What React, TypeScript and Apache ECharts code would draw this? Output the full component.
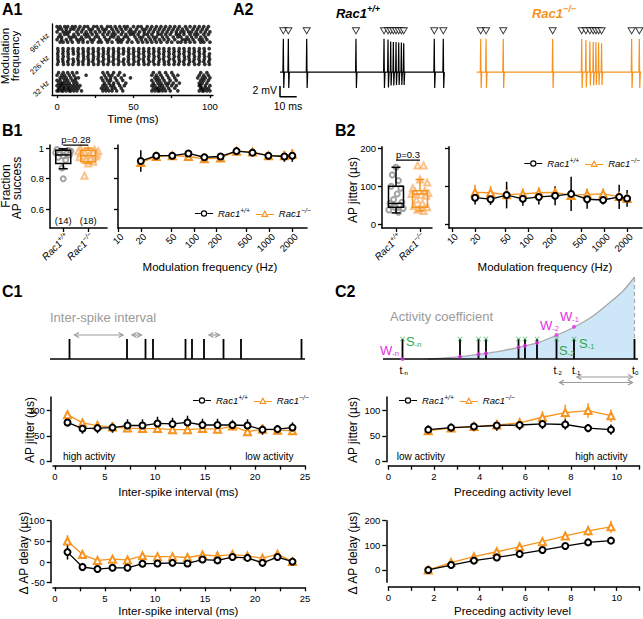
import React, { useEffect, useRef } from "react";
import * as echarts from "echarts";

const FONT = "'Liberation Sans', Arial, Helvetica, sans-serif";
const BLACK = "#000000";
const ORANGE = "#F7931E";
const ORANGE_LIGHT = "#F9B26A";
const GRAY = "#9a9a9a";
const PT_GRAY = "#8c8c8c";
const MAGENTA = "#E62EE6";
const GREEN = "#2AA84A";
const BLUE_FILL = "#CDE6F8";

// ---------------- A1 raster (spike times, ms) ----------------
const raster967 = [
  [0, 2, 5, 7, 10, 12, 15, 18, 20, 24, 26, 29, 33, 35, 38, 41, 44, 46, 50, 53, 55, 59, 62, 65, 68, 71, 74, 77, 80, 84, 87, 90, 93, 96, 99],
  [1, 3, 6, 9, 11, 14, 17, 21, 23, 27, 30, 32, 36, 39, 42, 45, 48, 52, 56, 58, 61, 64, 67, 70, 73, 76, 79, 82, 85, 89, 92, 95, 98],
  [0, 4, 6, 8, 13, 16, 19, 22, 25, 28, 31, 34, 37, 40, 43, 47, 49, 51, 54, 57, 60, 63, 66, 69, 72, 75, 78, 81, 83, 86, 88, 91, 94, 97, 100],
  [2, 5, 7, 11, 14, 18, 20, 23, 26, 30, 33, 36, 38, 42, 45, 48, 50, 53, 57, 59, 62, 66, 68, 71, 74, 78, 80, 83, 87, 90, 92, 96, 99],
  [1, 3, 8, 10, 12, 16, 19, 21, 25, 27, 31, 35, 37, 40, 44, 46, 51, 54, 56, 60, 63, 65, 69, 72, 76, 79, 81, 85, 88, 91, 94, 97],
  [0, 3, 6, 9, 13, 15, 17, 22, 24, 28, 32, 34, 39, 41, 43, 47, 52, 55, 58, 61, 64, 67, 70, 73, 77, 82, 84, 86, 89, 93, 95, 98],
  [2, 4, 7, 10, 14, 17, 20, 23, 27, 29, 33, 36, 40, 42, 46, 49, 53, 56, 59, 62, 65, 68, 72, 75, 79, 81, 84, 87, 90, 94, 96, 100],
];
const raster226 = [
  [0.5, 3.9, 7.4, 10.4, 13.9, 17.0, 20.5, 23.6, 27.1, 30.2, 33.7, 36.8, 40.3, 43.4, 46.9, 50.0, 53.5, 56.6, 60.1, 63.2, 66.7, 69.8, 73.3, 76.4, 79.9, 83.0, 86.5, 89.6, 93.1, 96.2, 99.5],
  [0.7, 4.0, 7.1, 10.6, 13.7, 17.2, 20.3, 23.8, 26.9, 30.4, 33.5, 37.0, 40.1, 43.6, 46.7, 50.2, 53.3, 56.8, 59.9, 63.4, 66.5, 70.0, 73.1, 76.6, 79.7, 83.2, 86.3, 89.8, 92.9, 96.4],
  [0.4, 3.8, 7.3, 10.7, 14.0, 17.1, 20.6, 23.5, 27.2, 30.3, 33.4, 36.9, 40.4, 43.3, 47.0, 49.9, 53.6, 56.5, 60.2, 63.1, 66.8, 69.7, 73.4, 76.3, 80.0, 82.9, 86.6, 89.5, 93.2, 96.1, 99.7],
  [0.6, 4.1, 7.2, 13.8, 17.3, 20.2, 23.9, 27.0, 30.1, 33.8, 36.7, 40.2, 46.6, 50.3, 53.2, 56.9, 60.0, 63.5, 66.4, 69.9, 73.0, 76.7, 79.6, 83.3, 86.2, 89.9, 93.0, 96.5, 99.4],
  [0.5, 3.7, 7.5, 10.5, 13.6, 17.4, 20.4, 23.7, 26.8, 30.5, 33.6, 37.1, 40.0, 43.7, 46.8, 50.1, 53.7, 56.4, 59.8, 63.3, 66.9, 69.6, 73.5, 76.2, 79.8, 83.4, 86.4, 89.7, 92.8, 96.3, 99.8],
  [0.8, 3.9, 7.0, 10.8, 14.1, 16.9, 20.7, 23.4, 27.3, 30.0, 33.9, 36.6, 40.5, 43.2, 46.5, 50.4, 53.1, 56.7, 60.3, 62.9, 66.6, 70.1, 72.9, 76.8, 80.1, 82.8, 86.7, 89.4, 93.3, 96.0, 99.3],
  [0.3, 4.2, 7.3, 10.3, 13.9, 17.0, 20.5, 24.0, 26.9, 30.4, 33.3, 37.0, 40.1, 43.8, 47.1, 49.8, 53.4, 57.0, 59.7, 63.6, 66.3, 70.2, 73.2, 76.5, 79.5, 83.1, 86.1, 90.0, 92.7, 96.6, 99.6],
];
const raster32 = [
  [1, 4, 7, 10, 13, 30, 33, 37, 41, 63, 67, 71, 75, 94, 98],
  [0, 3, 5, 8, 11, 19, 31, 34, 36, 40, 44, 62, 65, 68, 72, 76, 79, 93, 96, 99],
  [2, 4, 6, 9, 12, 14, 29, 32, 35, 38, 42, 48, 64, 66, 69, 73, 77, 92, 95, 97, 100],
  [0, 2, 5, 7, 10, 12, 30, 33, 35, 39, 43, 62, 65, 67, 70, 74, 78, 94, 96, 99],
  [1, 3, 4, 6, 8, 11, 13, 31, 34, 37, 40, 45, 63, 66, 68, 71, 73, 76, 80, 93, 95, 98],
  [0, 2, 3, 5, 7, 9, 11, 13, 15, 30, 32, 35, 37, 41, 44, 62, 64, 67, 69, 72, 75, 78, 93, 94, 97, 100],
  [1, 2, 4, 5, 7, 8, 10, 12, 14, 29, 31, 33, 36, 38, 42, 63, 65, 66, 68, 70, 73, 77, 94, 95, 97, 99],
  [0, 1, 3, 4, 6, 8, 9, 11, 13, 16, 30, 32, 34, 36, 39, 43, 62, 64, 66, 67, 69, 71, 74, 79, 93, 95, 96, 98, 100],
];
const rows967 = [1, 2, 3, 4, 5, 6, 7];
const rows226 = [9.5, 10.5, 11.5, 12.5, 13.5, 14.5, 15.5];
const rows32 = [18.7, 19.7, 20.7, 21.7, 22.7, 23.7, 24.7, 25.7];
const bandLabels = ["967 Hz", "226 Hz", "32 Hz"];
const bandCenters = [4, 12.5, 22.2];
const timeTicks = [0, 25, 50, 75, 100];
const timeLabels = [0, 50, 100];

// ---------------- A2 traces ----------------
const wtSpikes = [2.0, 5.0, 16.0, 45.5, 62.3, 64.7, 66.3, 67.9, 69.5, 71.1, 72.7, 74.1, 92.4, 97.8];
const wtUp = [6.2, 6.2, 6.2, 6.2, 6.2, 6.1, 5.7, 5.6, 5.6, 5.5, 5.5, 5.4, 6.2, 6.2];
const wtDown = [3.0, 3.0, 3.0, 3.0, 3.0, 2.9, 2.5, 2.5, 2.4, 2.4, 2.4, 2.4, 3.0, 3.0];
const koSpikes = [2.4, 5.6, 15.9, 45.5, 62.9, 65.4, 67.8, 69.8, 71.4, 73.0, 74.8, 92.8, 97.4];
const koUp = [6.2, 6.2, 6.2, 6.2, 6.2, 6.0, 5.7, 5.6, 5.6, 5.5, 5.4, 6.2, 6.2];
const koDown = [3.0, 3.0, 3.0, 3.0, 3.0, 2.9, 2.5, 2.5, 2.4, 2.4, 2.4, 3.0, 3.0];
const traceEnd = 98.6;
const markLevel = 7.7;
const scaleBarMv = 2;
const scaleBarMs = 10;

// ---------------- B1 / B2 ----------------
const FREQS = [20, 32, 52, 85, 138, 226, 367, 596, 967, 1573, 2000];
const LOG_TICKS = [10, 20, 50, 100, 200, 500, 1000, 2000];
const b1Wt = [0.915, 0.95, 0.95, 0.965, 0.94, 0.945, 0.98, 0.97, 0.95, 0.945, 0.95];
const b1WtErr = [0.07, 0.025, 0.02, 0.02, 0.025, 0.02, 0.01, 0.02, 0.025, 0.035, 0.04];
const b1Ko = [0.905, 0.945, 0.95, 0.945, 0.93, 0.935, 0.98, 0.975, 0.95, 0.95, 0.96];
const b1KoErr = [0.03, 0.025, 0.02, 0.025, 0.02, 0.02, 0.01, 0.02, 0.025, 0.025, 0.03];
const b2Wt = [70, 66, 77, 67, 72, 75, 80, 66, 64, 72, 68];
const b2WtErr = [18, 15, 35, 18, 20, 25, 45, 25, 12, 32, 22];
const b2Ko = [84, 83, 78, 80, 83, 84, 76, 79, 80, 73, 68];
const b2KoErr = [20, 18, 22, 15, 15, 15, 18, 15, 15, 15, 10];

// box plots: [min, q1, median, q3, max]
const b1WtBox = [0.865, 0.9, 0.955, 0.985, 0.995];
const b1KoBox = [0.9, 0.91, 0.95, 0.985, 1.0];
const b1WtPts = [0.99, 0.985, 0.98, 0.98, 0.975, 0.97, 0.965, 0.96, 0.955, 0.95, 0.94, 0.92, 0.87, 0.8];
const b1WtJit = [-0.25, 0.2, -0.1, 0.3, 0.05, -0.3, 0.15, -0.15, 0.25, 0, -0.2, 0.1, -0.05, 0];
const b1KoPts = [0.995, 0.99, 0.985, 0.98, 0.98, 0.975, 0.97, 0.965, 0.96, 0.955, 0.95, 0.945, 0.94, 0.93, 0.92, 0.91, 0.9, 0.82];
const b1KoJit = [-0.3, 0.25, 0, -0.4, 0.4, -0.15, 0.2, -0.3, 0.35, 0.05, -0.2, 0.3, -0.35, 0.1, -0.1, 0.2, 0, -0.15];
const b2WtBox = [30, 45, 55, 100, 150];
const b2KoBox = [35, 45, 80, 88, 118];
const b2WtPts = [150, 130, 115, 100, 95, 80, 65, 58, 55, 50, 45, 42, 38, 32];
const b2WtJit = [0, -0.15, 0.1, -0.2, 0.2, 0.05, -0.1, 0.25, -0.25, 0.15, -0.05, 0.3, -0.3, 0.1];
const b2KoPts = [155, 155, 118, 110, 95, 88, 85, 82, 80, 78, 75, 65, 55, 48, 45, 42, 38, 35];
const b2KoJit = [-0.1, 0.15, 0, 0.3, -0.3, 0.2, -0.2, 0.35, -0.35, 0.05, 0.25, -0.15, 0.1, -0.25, 0.3, 0, -0.1, 0.15];
const nCounts = ["(14)", "(18)"];

// ---------------- C1 / C2 ----------------
const spikeTrain = [19.5, 77, 95.5, 103, 135.5, 142, 154, 173.5, 191, 251.5];
const spikeHeight = 20;
const isiArrows = [[0, 1], [1, 2], [6, 7]];
const isiArrowLevel = 24;
const activityArrows = [[8, 9], [7, 9]];
const activityArrowLevels = [-18, -23.5];
const curveX = [45, 60, 78, 96, 104, 120, 136, 143, 155, 174, 192, 210, 225, 240, 251.5];
const curveH = [0, 0.8, 2.3, 4.7, 5.7, 8.3, 11.7, 13.3, 16.3, 24, 32.3, 43, 55, 68, 82];
const weightHeights = [0, 2.3, 4.7, 5.7, 11.7, 13.3, 16.3, 24, 32.3];

const ISI = [1.25, 2.75, 4.25, 5.75, 7.25, 8.75, 10.25, 11.75, 13.25, 14.75, 16.25, 17.75, 19.25, 20.75, 22.25, 23.75];
const isiTicks = [0, 2.5, 5, 7.5, 10, 12.5, 15, 17.5, 20, 22.5, 25];
const isiLabels = [0, 5, 10, 15, 20, 25];
const c1JitWt = [76, 64, 65, 66, 70, 70, 74, 73, 76, 71, 71, 71, 70, 62, 63, 66];
const c1JitWtErr = [8, 10, 10, 10, 12, 12, 13, 12, 13, 12, 12, 10, 12, 10, 8, 10];
const c1JitKo = [91, 75, 70, 67, 65, 64, 64, 62, 62, 64, 63, 69, 58, 63, 61, 60];
const c1JitKoErr = [7, 8, 8, 8, 8, 8, 8, 8, 8, 8, 8, 8, 8, 8, 8, 8];
const c1DelWt = [24, -12, -17, -14, -14, -4, -3.5, -2, -3.5, 6, 4, 12, 10, -2, 12, 1];
const c1DelWtErr = [18, 10, 8, 6, 6, 6, 6, 6, 6, 6, 6, 6, 6, 5, 5, 4];
const c1DelKo = [51, 18, 4, 7, 5, 15, 13, 13, 11, 17, 15, 18, 15, 9, 19, 1];
const c1DelKoErr = [14, 10, 6, 5, 5, 5, 5, 5, 5, 5, 5, 5, 5, 5, 5, 4];

const ACT = [1.75, 2.75, 3.75, 4.75, 5.75, 6.75, 7.75, 8.75, 9.75];
const actTicks = [0, 1, 2, 3, 4, 5, 6, 7, 8, 9, 10, 11];
const actLabels = [0, 2, 4, 6, 8, 10];
const c2JitWt = [62, 66, 68, 70, 71, 73, 72, 65, 62];
const c2JitWtErr = [8, 8, 8, 10, 10, 10, 10, 8, 10];
const c2JitKo = [60, 65, 68, 71, 75, 86, 95, 99, 89];
const c2JitKoErr = [8, 8, 10, 10, 10, 12, 15, 14, 12];
const c2DelWt = [0, 20, 38, 51, 65, 81, 97, 112, 119];
const c2DelWtErr = [4, 5, 5, 6, 6, 7, 10, 12, 14];
const c2DelKo = [0, 30, 54, 74, 94, 115, 138, 159, 175];
const c2DelKoErr = [4, 6, 6, 7, 8, 10, 15, 20, 25];

const LABEL_SHIFT_LOG = 0.05;
const LABEL_SHIFT_CAT = 0.16;

// legend icons: line with open circle / open triangle (18 x 8 box)
const ICON_WT = "path://M0,3.4L5.6,3.4L5.6,4.6L0,4.6Z M12.4,3.4L18,3.4L18,4.6L12.4,4.6Z M12.2,4A3.2,3.2 0 1,0 5.8,4A3.2,3.2 0 1,0 12.2,4Z M11,4A2,2 0 1,1 7,4A2,2 0 1,1 11,4Z";
const ICON_KO = "path://M0,4.4L6.2,4.4L6.2,5.6L0,5.6Z M11.8,4.4L18,4.4L18,5.6L11.8,5.6Z M9,0.6L12.8,7.4L5.2,7.4Z M9,2.9L7.1,6.3L10.9,6.3Z";

// ---------------- helpers ----------------
function supRich(size: number, color = BLACK, weight = "normal") {
  return {
    i: { fontFamily: FONT, fontStyle: "italic", fontWeight: weight, fontSize: size, color, fill: color },
    s: {
      fontFamily: FONT, fontStyle: "italic", fontWeight: weight, fontSize: Math.round(size * 0.7 * 10) / 10,
      color, fill: color, padding: [0, 0, Math.round(size * 0.6), 0],
    },
  };
}
const wtLabel = "{i|Rac1}{s|+/+}";
const koLabel = "{i|Rac1}{s|\u2212/\u2212}";

function subRich(size: number, color: string) {
  return {
    m: { fontFamily: FONT, fontSize: size, color, fill: color },
    b: { fontFamily: FONT, fontSize: Math.round(size * 0.58 * 10) / 10, color, fill: color, padding: [Math.round(size * 0.5), 0, 0, 0] },
  };
}

function buildTrace(times: number[], up: number[], down: number[], end: number) {
  const d: number[][] = [[0, 0]];
  times.forEach((t, i) => {
    d.push([t - 0.25, 0], [t, up[i]], [t + 0.25, -down[i]], [t + 0.6, 0]);
  });
  d.push([end, 0]);
  return d;
}

const axisLine = { show: true, onZero: false, lineStyle: { color: BLACK, width: 1.5 } };
function ticks(values: number[], len = 4) {
  return { show: true, customValues: values, length: len, lineStyle: { color: BLACK, width: 1.3 } };
}
function labels(values: number[], extra: any = {}) {
  return { show: true, customValues: values, fontSize: 9.5, color: BLACK, fontFamily: FONT, margin: 6, ...extra };
}
function hidden(gridIndex: number, min: number, max: number, extra: any = {}) {
  return { gridIndex, type: "value", show: false, min, max, ...extra };
}

function errRender(color: string) {
  return (params: any, api: any) => {
    const x = api.value(0);
    const a = api.coord([x, api.value(1)]);
    const b = api.coord([x, api.value(2)]);
    return { type: "line", shape: { x1: a[0], y1: a[1], x2: b[0], y2: b[1] }, style: { stroke: color, lineWidth: 1.5 } };
  };
}
function boxRender(color: string) {
  return (params: any, api: any) => {
    const x = api.value(0);
    const p = [1, 2, 3, 4, 5].map((i) => api.coord([x, api.value(i)]));
    const cx = p[0][0];
    const hw = 7.5, cw = 4.5;
    const st = { stroke: color, lineWidth: 1.5, fill: "none" };
    return {
      type: "group",
      children: [
        { type: "line", shape: { x1: cx, y1: p[4][1], x2: cx, y2: p[3][1] }, style: st },
        { type: "line", shape: { x1: cx, y1: p[1][1], x2: cx, y2: p[0][1] }, style: st },
        { type: "line", shape: { x1: cx - cw, y1: p[4][1], x2: cx + cw, y2: p[4][1] }, style: st },
        { type: "line", shape: { x1: cx - cw, y1: p[0][1], x2: cx + cw, y2: p[0][1] }, style: st },
        { type: "rect", shape: { x: cx - hw, y: p[3][1], width: 2 * hw, height: p[1][1] - p[3][1] }, style: st },
        { type: "line", shape: { x1: cx - hw, y1: p[2][1], x2: cx + hw, y2: p[2][1] }, style: st },
      ],
    };
  };
}
function spikeRender(params: any, api: any) {
  const x = api.value(0);
  const a = api.coord([x, 0]);
  const b = api.coord([x, api.value(1)]);
  return { type: "line", shape: { x1: a[0], y1: a[1], x2: b[0], y2: b[1] }, style: { stroke: BLACK, lineWidth: 1.8 } };
}
function arrowRender(params: any, api: any) {
  const y = api.value(2);
  const a = api.coord([api.value(0), y]);
  const b = api.coord([api.value(1), y]);
  const h = 4.5, w = 2.5;
  const st = { stroke: GRAY, lineWidth: 1.2, fill: "none" };
  return {
    type: "group",
    children: [
      { type: "line", shape: { x1: a[0], y1: a[1], x2: b[0], y2: b[1] }, style: st },
      { type: "polyline", shape: { points: [[a[0] + h, a[1] - w], [a[0], a[1]], [a[0] + h, a[1] + w]] }, style: st },
      { type: "polyline", shape: { points: [[b[0] - h, b[1] - w], [b[0], b[1]], [b[0] - h, b[1] + w]] }, style: st },
    ],
  };
}

function meanLine(name: string, idx: number, xs: number[], ys: number[]) {
  const wt = name === "wt";
  return {
    type: "line", name, xAxisIndex: idx, yAxisIndex: idx,
    data: xs.map((x, i) => [x, ys[i]]),
    symbol: wt ? "emptyCircle" : "emptyTriangle",
    symbolSize: wt ? 6 : 7,
    lineStyle: { color: wt ? BLACK : ORANGE, width: 1.3 },
    itemStyle: { color: wt ? BLACK : ORANGE, borderWidth: 1.3 },
    z: wt ? 4 : 3,
  };
}
function errBars(name: string, idx: number, xs: number[], ys: number[], es: number[]) {
  const wt = name === "wt";
  return {
    type: "custom", name: name + "Err", xAxisIndex: idx, yAxisIndex: idx,
    data: xs.map((x, i) => [x, ys[i] - es[i], ys[i] + es[i]]),
    renderItem: errRender(wt ? BLACK : ORANGE),
    z: wt ? 2 : 1, silent: true,
  };
}
function boxSeries(idx: number, x: number, box: number[], color: string) {
  return { type: "custom", xAxisIndex: idx, yAxisIndex: idx, data: [[x, ...box]], renderItem: boxRender(color), z: 5, silent: true };
}
function ptsSeries(idx: number, x: number, pts: number[], jit: number[], wt: boolean) {
  return {
    type: "scatter", xAxisIndex: idx, yAxisIndex: idx,
    data: pts.map((v, i) => [x + jit[i], v]),
    symbol: wt ? "emptyCircle" : "emptyTriangle",
    symbolSize: wt ? 5 : 6,
    itemStyle: { color: wt ? PT_GRAY : ORANGE_LIGHT, borderWidth: 1 },
    z: 2, silent: true,
  };
}

function T(x: number, y: number, text: string, o: any = {}) {
  return {
    type: "text", x, y, rotation: o.rot || 0, z: 100, silent: true,
    style: {
      text, fontFamily: FONT, fontSize: o.size || 12, fontWeight: o.weight || "normal",
      fontStyle: o.fstyle || "normal", fill: o.color || BLACK,
      align: o.align || "center", verticalAlign: o.va || "middle", rich: o.rich,
    },
  };
}

function buildOption() {
  const grid = [
    { left: 52, top: 24, width: 161, height: 71 }, // 0 A1
    { left: 280, top: 25, width: 165.3, height: 73.8 }, // 1 A2 wt
    { left: 476.7, top: 25, width: 165.3, height: 73.8 }, // 2 A2 ko
    { left: 50, top: 145, width: 57, height: 83 }, // 3 B1 box
    { left: 118, top: 145, width: 189, height: 83 }, // 4 B1 line
    { left: 382, top: 146.7, width: 50, height: 81.3 }, // 5 B2 box
    { left: 449, top: 146.7, width: 193, height: 81.3 }, // 6 B2 line
    { left: 50, top: 276, width: 255, height: 113 }, // 7 C1 schematic
    { left: 383, top: 276, width: 255, height: 113 }, // 8 C2 schematic
    { left: 53, top: 397.1, width: 252, height: 64.6 }, // 9 C1 jitter
    { left: 53, top: 520.7, width: 252, height: 62 }, // 10 C1 delay
    { left: 388.3, top: 397.1, width: 251.2, height: 64.6 }, // 11 C2 jitter
    { left: 388.3, top: 520.7, width: 251.2, height: 61.6 }, // 12 C2 delay
  ].map((g) => ({ ...g, containLabel: false, outerBoundsMode: "none" }));

  const logX = FREQS.map((f) => Math.log10(f));
  const logTickPos = LOG_TICKS.map((v) => Math.log10(v));
  const logLabelPos = LOG_TICKS.map((v) => Math.log10(v) + LABEL_SHIFT_LOG);
  const logFmt = (v: number) => String(Math.round(Math.pow(10, v - LABEL_SHIFT_LOG)));
  const catFmt = (v: number) => (v < 1.5 ? wtLabel : koLabel);
  const catLabel = labels([1 + LABEL_SHIFT_CAT, 2 + LABEL_SHIFT_CAT], {
    rotate: 45, formatter: catFmt, rich: supRich(10), margin: 7,
  });
  const logLabel = labels(logLabelPos, { rotate: 45, formatter: logFmt, margin: 7 });
  const noLabel = { show: false };

  const xAxis: any[] = [
    { gridIndex: 0, type: "value", min: -3.3, max: 102, axisLine: { ...axisLine, lineStyle: { color: BLACK, width: 1.3 } }, axisTick: ticks(timeTicks, 3), axisLabel: labels(timeLabels), splitLine: { show: false } },
    hidden(1, 0, 99),
    hidden(2, 0, 99),
    { gridIndex: 3, type: "value", min: 0.47, max: 2.75, axisLine, axisTick: ticks([1, 2]), axisLabel: catLabel, splitLine: { show: false } },
    { gridIndex: 4, type: "value", min: 1, max: 3.495, axisLine, axisTick: ticks(logTickPos), axisLabel: logLabel, splitLine: { show: false } },
    { gridIndex: 5, type: "value", min: 0.417, max: 2.5, axisLine, axisTick: ticks([1, 2]), axisLabel: catLabel, splitLine: { show: false } },
    { gridIndex: 6, type: "value", min: 0.958, max: 3.497, axisLine, axisTick: ticks(logTickPos), axisLabel: logLabel, splitLine: { show: false } },
    hidden(7, 0, 255),
    hidden(8, 0, 255),
    { gridIndex: 9, type: "value", min: -0.2, max: 25, offset: 4, axisLine, axisTick: ticks(isiTicks), axisLabel: labels(isiLabels), splitLine: { show: false } },
    { gridIndex: 10, type: "value", min: -0.2, max: 25, offset: 4.6, axisLine, axisTick: ticks(isiTicks), axisLabel: labels(isiLabels), splitLine: { show: false } },
    { gridIndex: 11, type: "value", min: 0, max: 11, offset: 4, axisLine, axisTick: ticks(actTicks), axisLabel: labels(actLabels), splitLine: { show: false } },
    { gridIndex: 12, type: "value", min: 0, max: 11, offset: 4.6, axisLine, axisTick: ticks(actTicks), axisLabel: labels(actLabels), splitLine: { show: false } },
  ];
  const yAxis: any[] = [
    {
      gridIndex: 0, type: "value", inverse: true, min: 0, max: 27.3,
      axisLine: { ...axisLine, lineStyle: { color: BLACK, width: 1.3 } }, axisTick: { show: false },
      axisLabel: labels(bandCenters, {
        rotate: 45, fontSize: 7.5, margin: 4,
        formatter: (v: number) => {
          let best = 0;
          bandCenters.forEach((c, i) => { if (Math.abs(c - v) < Math.abs(bandCenters[best] - v)) best = i; });
          return bandLabels[best];
        },
      }),
      splitLine: { show: false },
    },
    hidden(1, -5, 8.79),
    hidden(2, -5, 8.79),
    { gridIndex: 3, type: "value", min: 0.478, max: 1.02, axisLine, axisTick: ticks([0.6, 0.8, 1]), axisLabel: labels([0.6, 0.8, 1]), splitLine: { show: false } },
    { gridIndex: 4, type: "value", min: 0.478, max: 1.02, axisLine, axisTick: ticks([0.6, 0.8, 1]), axisLabel: noLabel, splitLine: { show: false } },
    { gridIndex: 5, type: "value", min: -9.7, max: 204.2, axisLine, axisTick: ticks([0, 100, 200]), axisLabel: labels([0, 100, 200]), splitLine: { show: false } },
    { gridIndex: 6, type: "value", min: -9.7, max: 204.2, axisLine, axisTick: ticks([0, 100, 200]), axisLabel: noLabel, splitLine: { show: false } },
    hidden(7, -30, 83),
    hidden(8, -30, 83),
    { gridIndex: 9, type: "value", min: 0, max: 125, offset: 2.3, axisLine, axisTick: ticks([0, 50, 100]), axisLabel: labels([0, 50, 100]), splitLine: { show: false } },
    { gridIndex: 10, type: "value", min: -50, max: 100, offset: 2.3, axisLine, axisTick: ticks([-50, 0, 50, 100]), axisLabel: labels([-50, 0, 50, 100]), splitLine: { show: false } },
    { gridIndex: 11, type: "value", min: 0, max: 125, offset: 2, axisLine, axisTick: ticks([0, 50, 100]), axisLabel: labels([0, 50, 100]), splitLine: { show: false } },
    { gridIndex: 12, type: "value", min: -50, max: 200, offset: 2, axisLine, axisTick: ticks([0, 100, 200]), axisLabel: labels([0, 100, 200]), splitLine: { show: false } },
  ];

  const series: any[] = [];

  // A1 raster
  const rasterData: number[][] = [];
  const bands: [number[][], number[]][] = [[raster967, rows967], [raster226, rows226], [raster32, rows32]];
  bands.forEach(([rows, pos]) => rows.forEach((r, i) => r.forEach((t) => rasterData.push([t, pos[i]]))));
  series.push({ type: "scatter", xAxisIndex: 0, yAxisIndex: 0, data: rasterData, symbol: "circle", symbolSize: 3.7, itemStyle: { color: BLACK }, silent: true });

  // A2 traces
  series.push({ type: "line", xAxisIndex: 1, yAxisIndex: 1, data: buildTrace(wtSpikes, wtUp, wtDown, traceEnd), symbol: "none", lineStyle: { color: BLACK, width: 1.2 }, silent: true });
  series.push({ type: "line", xAxisIndex: 2, yAxisIndex: 2, data: buildTrace(koSpikes, koUp, koDown, traceEnd), symbol: "none", lineStyle: { color: ORANGE, width: 1.2 }, silent: true });
  [[1, wtSpikes], [2, koSpikes]].forEach(([idx, sp]: any) => {
    series.push({
      type: "scatter", xAxisIndex: idx, yAxisIndex: idx, data: sp.map((t: number) => [t, markLevel]),
      symbol: "triangle", symbolRotate: 180, symbolSize: [7, 6],
      itemStyle: { color: "#ffffff", borderColor: BLACK, borderWidth: 1 }, silent: true, z: 5,
    });
  });
  series.push({
    type: "line", xAxisIndex: 1, yAxisIndex: 1, clip: false, symbol: "none",
    data: [[0, -2.6], [0, -2.6 - scaleBarMv], [scaleBarMs, -2.6 - scaleBarMv]],
    lineStyle: { color: BLACK, width: 1.5 }, silent: true,
  });

  // B1
  series.push(ptsSeries(3, 1, b1WtPts, b1WtJit, true));
  series.push(ptsSeries(3, 2, b1KoPts, b1KoJit, false));
  series.push(boxSeries(3, 1, b1WtBox, BLACK));
  series.push(boxSeries(3, 2, b1KoBox, ORANGE));
  series.push({ type: "line", xAxisIndex: 3, yAxisIndex: 3, data: [[1, 1.0196], [2, 1.0196]], symbol: "none", clip: false, lineStyle: { color: BLACK, width: 1.2 }, silent: true });
  series.push(errBars("wt", 4, logX, b1Wt, b1WtErr));
  series.push(errBars("ko", 4, logX, b1Ko, b1KoErr));
  series.push(meanLine("ko", 4, logX, b1Ko));
  series.push(meanLine("wt", 4, logX, b1Wt));

  // B2
  series.push(ptsSeries(5, 1, b2WtPts, b2WtJit, true));
  series.push(ptsSeries(5, 2, b2KoPts, b2KoJit, false));
  series.push(boxSeries(5, 1, b2WtBox, BLACK));
  series.push(boxSeries(5, 2, b2KoBox, ORANGE));
  series.push({ type: "line", xAxisIndex: 5, yAxisIndex: 5, data: [[1, 169], [2, 169]], symbol: "none", clip: false, lineStyle: { color: BLACK, width: 1.2 }, silent: true });
  series.push(errBars("wt", 6, logX, b2Wt, b2WtErr));
  series.push(errBars("ko", 6, logX, b2Ko, b2KoErr));
  series.push(meanLine("ko", 6, logX, b2Ko));
  series.push(meanLine("wt", 6, logX, b2Wt));

  // C1 schematic
  series.push({ type: "line", xAxisIndex: 7, yAxisIndex: 7, data: [[0, 0], [255, 0]], symbol: "none", lineStyle: { color: BLACK, width: 1.5 }, silent: true });
  series.push({ type: "custom", xAxisIndex: 7, yAxisIndex: 7, data: spikeTrain.map((x) => [x, spikeHeight]), renderItem: spikeRender, silent: true, z: 3 });
  series.push({
    type: "custom", xAxisIndex: 7, yAxisIndex: 7, silent: true, renderItem: arrowRender,
    data: isiArrows.map(([a, b]) => [spikeTrain[a] + 5, spikeTrain[b] - 4, isiArrowLevel]),
  });

  // C2 schematic
  series.push({
    type: "line", xAxisIndex: 8, yAxisIndex: 8, data: curveX.map((x, i) => [x, curveH[i]]), smooth: 0.3, symbol: "none",
    lineStyle: { color: "#a8a8a8", width: 1.3 }, areaStyle: { color: BLUE_FILL, opacity: 1 }, silent: true, z: 1,
  });
  series.push({
    type: "line", xAxisIndex: 8, yAxisIndex: 8, symbol: "none", silent: true, z: 1,
    data: [[curveX[curveX.length - 1], 0], [curveX[curveX.length - 1], curveH[curveH.length - 1]]],
    lineStyle: { color: "#a8a8a8", width: 1.2, type: [4, 3] },
  });
  series.push({ type: "line", xAxisIndex: 8, yAxisIndex: 8, data: [[0, 0], [255, 0]], symbol: "none", lineStyle: { color: BLACK, width: 1.5 }, silent: true, z: 2 });
  series.push({ type: "custom", xAxisIndex: 8, yAxisIndex: 8, data: spikeTrain.map((x) => [x, spikeHeight]), renderItem: spikeRender, silent: true, z: 3 });
  series.push({
    type: "scatter", xAxisIndex: 8, yAxisIndex: 8, silent: true, z: 5,
    data: spikeTrain.slice(0, weightHeights.length).map((x, i) => [x, weightHeights[i]]),
    symbol: "circle", symbolSize: 4, itemStyle: { color: MAGENTA },
  });
  series.push({
    type: "scatter", xAxisIndex: 8, yAxisIndex: 8, silent: true, z: 5,
    data: spikeTrain.slice(0, weightHeights.length).map((x) => [x, spikeHeight]),
    symbol: "path://M0,1L1,0L5,4L9,0L10,1L6,5L10,9L9,10L5,6L1,10L0,9L4,5Z", symbolSize: 5, itemStyle: { color: GREEN },
  });
  series.push({
    type: "custom", xAxisIndex: 8, yAxisIndex: 8, silent: true, renderItem: arrowRender,
    data: activityArrows.map(([a, b], k) => [spikeTrain[a] + 3, spikeTrain[b] - 2, activityArrowLevels[k]]),
  });

  // C1 plots
  series.push(errBars("wt", 9, ISI, c1JitWt, c1JitWtErr));
  series.push(errBars("ko", 9, ISI, c1JitKo, c1JitKoErr));
  series.push(meanLine("ko", 9, ISI, c1JitKo));
  series.push(meanLine("wt", 9, ISI, c1JitWt));
  series.push(errBars("wt", 10, ISI, c1DelWt, c1DelWtErr));
  series.push(errBars("ko", 10, ISI, c1DelKo, c1DelKoErr));
  series.push(meanLine("ko", 10, ISI, c1DelKo));
  series.push(meanLine("wt", 10, ISI, c1DelWt));

  // C2 plots
  series.push(errBars("wt", 11, ACT, c2JitWt, c2JitWtErr));
  series.push(errBars("ko", 11, ACT, c2JitKo, c2JitKoErr));
  series.push(meanLine("ko", 11, ACT, c2JitKo));
  series.push(meanLine("wt", 11, ACT, c2JitWt));
  series.push(errBars("wt", 12, ACT, c2DelWt, c2DelWtErr));
  series.push(errBars("ko", 12, ACT, c2DelKo, c2DelKoErr));
  series.push(meanLine("ko", 12, ACT, c2DelKo));
  series.push(meanLine("wt", 12, ACT, c2DelWt));

  const legendBase = {
    data: [
      { name: "wt", icon: ICON_WT, itemStyle: { color: BLACK, borderWidth: 0 } },
      { name: "ko", icon: ICON_KO, itemStyle: { color: ORANGE, borderWidth: 0 } },
    ],
    orient: "horizontal", itemWidth: 18, itemHeight: 8, itemGap: 6, padding: 0,
    selectedMode: false,
    itemStyle: { borderWidth: 0 },
    formatter: (n: string) => (n === "wt" ? wtLabel : koLabel),
    textStyle: { rich: supRich(9.5), color: BLACK },
  };
  const legend = [
    { ...legendBase, left: 195, top: 207 },
    { ...legendBase, right: 3, top: 157, width: 140 },
    { ...legendBase, left: 193, top: 394 },
    { ...legendBase, left: 399, top: 394 },
  ];

  const W = subRich(13, MAGENTA);
  const S = subRich(13, GREEN);
  const Tt = subRich(10.5, BLACK);
  const graphic = [
    T(2, 9.5, "A1", { size: 16, weight: "bold", align: "left" }),
    T(233, 9.5, "A2", { size: 16, weight: "bold", align: "left" }),
    T(2, 130, "B1", { size: 16, weight: "bold", align: "left" }),
    T(335, 130, "B2", { size: 16, weight: "bold", align: "left" }),
    T(2, 291, "C1", { size: 16, weight: "bold", align: "left" }),
    T(335, 291, "C2", { size: 16, weight: "bold", align: "left" }),
    // A1
    T(5, 56, "Modulation", { size: 11.5, rot: Math.PI / 2 }),
    T(14.5, 56, "frequency", { size: 11.5, rot: Math.PI / 2 }),
    T(133, 119, "Time (ms)", { size: 11.5 }),
    // A2
    T(358, 13, wtLabel, { size: 13, rich: supRich(13, BLACK, "bold") }),
    T(554, 13, koLabel, { size: 13, rich: supRich(13, ORANGE, "bold") }),
    T(277, 90, "2 mV", { size: 10.5, align: "right" }),
    T(288, 106, "10 ms", { size: 10.5 }),
    // B1
    T(6, 186, "Fraction", { size: 12, rot: Math.PI / 2 }),
    T(17, 188, "AP success", { size: 12, rot: Math.PI / 2 }),
    T(75.8, 139, "p=0.28", { size: 9.5 }),
    T(63.3, 220, nCounts[0], { size: 9.5 }),
    T(88.3, 220, nCounts[1], { size: 9.5 }),
    T(210, 266.5, "Modulation frequency (Hz)", { size: 11.5 }),
    // B2
    T(353, 190, "AP jitter (\u00b5s)", { size: 12, rot: Math.PI / 2 }),
    T(408, 154, "p=0.3", { size: 9.5 }),
    T(545, 266.5, "Modulation frequency (Hz)", { size: 11.5 }),
    // C1
    T(50, 317, "Inter-spike interval", { size: 13, color: GRAY, align: "left" }),
    T(30, 430, "AP jitter (\u00b5s)", { size: 12, rot: Math.PI / 2 }),
    T(63, 456.5, "high activity", { size: 10, align: "left" }),
    T(293.5, 456.5, "low activity", { size: 10, align: "right" }),
    T(178.3, 491.5, "Inter-spike interval (ms)", { size: 11.5 }),
    T(23.5, 553, "\u0394 AP delay (\u00b5s)", { size: 12, rot: Math.PI / 2 }),
    T(178.3, 611, "Inter-spike interval (ms)", { size: 11.5 }),
    // C2
    T(390, 316, "Activity coefficient", { size: 13, color: GRAY, align: "left" }),
    T(380, 350, "{m|W}{b|-n}", { align: "left", rich: W }),
    T(406, 341, "{m|S}{b|-n}", { align: "left", rich: S }),
    T(540, 325, "{m|W}{b|-2}", { align: "left", rich: W }),
    T(560, 316, "{m|W}{b|-1}", { align: "left", rich: W }),
    T(559, 350, "{m|S}{b|-2}", { align: "left", rich: S }),
    T(579, 343, "{m|S}{b|-1}", { align: "left", rich: S }),
    T(399.5, 370, "{m|t}{b|-n}", { align: "left", rich: Tt }),
    T(553.5, 370, "{m|t}{b|-2}", { align: "left", rich: Tt }),
    T(572, 370, "{m|t}{b|-1}", { align: "left", rich: Tt }),
    T(632, 370, "{m|t}{b|0}", { align: "left", rich: Tt }),
    T(353, 430, "AP jitter (\u00b5s)", { size: 12, rot: Math.PI / 2 }),
    T(396.7, 456.5, "low activity", { size: 10, align: "left" }),
    T(627.5, 456.5, "high activity", { size: 10, align: "right" }),
    T(512.5, 491.5, "Preceding activity level", { size: 11.5 }),
    T(353, 553, "\u0394 AP delay (\u00b5s)", { size: 12, rot: Math.PI / 2 }),
    T(512.5, 611, "Preceding activity level", { size: 11.5 }),
  ];

  return {
    animation: false,
    backgroundColor: "#ffffff",
    textStyle: { fontFamily: FONT },
    grid, xAxis, yAxis, series, legend, graphic,
  };
}

export default function App() {
  const ref = useRef<HTMLDivElement>(null);
  useEffect(() => {
    if (!ref.current) return;
    const chart = echarts.init(ref.current, null, { renderer: "svg" });
    chart.setOption(buildOption() as any);
    return () => chart.dispose();
  }, []);
  return <div ref={ref} style={{ position: "absolute", left: 0, top: 0, width: 643, height: 619 }} />;
}
